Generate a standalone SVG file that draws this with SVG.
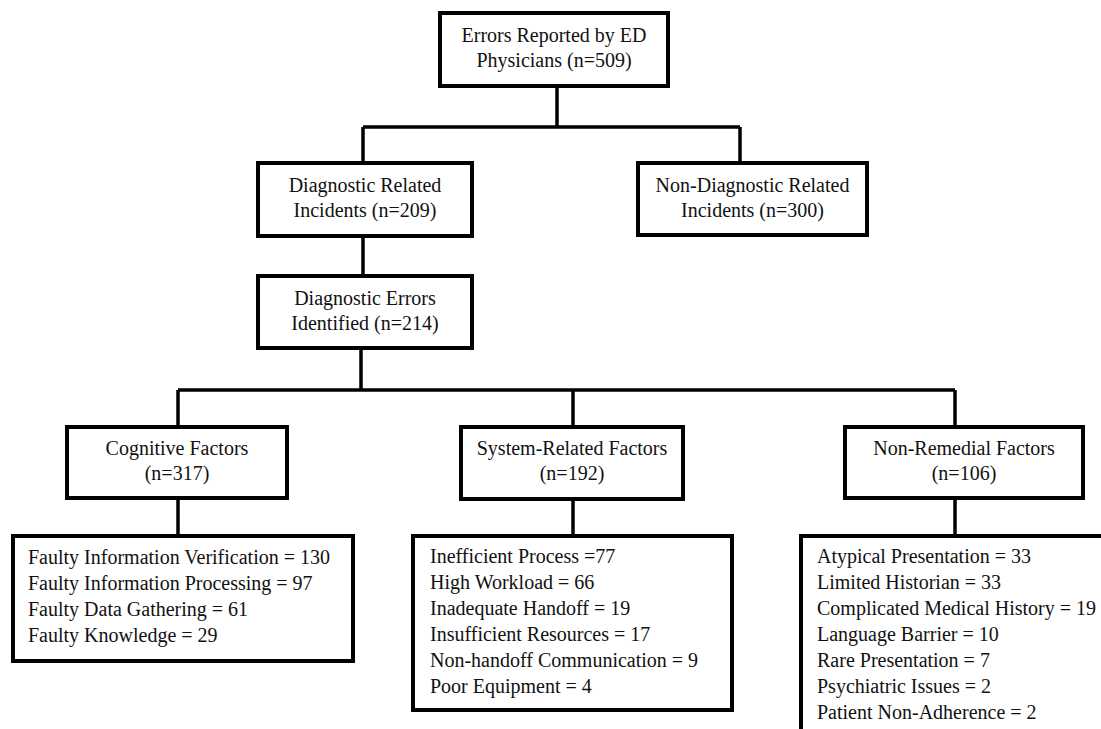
<svg xmlns="http://www.w3.org/2000/svg" width="1101" height="729" viewBox="0 0 1101 729">
<style>
.box{fill:#fff;stroke:#000;stroke-width:4}
.t{font-family:"Liberation Serif","Times New Roman",serif;font-size:20px;fill:#111}
.c{text-anchor:middle}
.ln{fill:none;stroke:#000;stroke-width:3.5}
</style>
<rect width="1101" height="729" fill="#fff"/>
<g id="connectors">
<path class="ln" d="M557 86V127M363 127H740M363 127V163M740 127V163"/>
<path class="ln" d="M363 236V276"/>
<path class="ln" d="M361 348V390M178 390H955M178 390V427M573 390V427M955 390V427"/>
<path class="ln" d="M178 498V536M573 499V536M955 498V536"/>
</g>
<g id="n-root">
<rect class="box" x="440" y="13" width="228" height="73"/>
<text class="t c" x="554" y="42">Errors Reported by ED</text>
<text class="t c" x="554" y="67">Physicians (n=509)</text>
</g>
<g id="n-diag">
<rect class="box" x="258" y="163" width="214" height="73"/>
<text class="t c" x="365" y="192">Diagnostic Related</text>
<text class="t c" x="365" y="217">Incidents (n=209)</text>
</g>
<g id="n-nondiag">
<rect class="box" x="638" y="163" width="229" height="72"/>
<text class="t c" x="752.5" y="192">Non-Diagnostic Related</text>
<text class="t c" x="752.5" y="217">Incidents (n=300)</text>
</g>
<g id="n-errors">
<rect class="box" x="258" y="276" width="214" height="72"/>
<text class="t c" x="365" y="305">Diagnostic Errors</text>
<text class="t c" x="365" y="330">Identified (n=214)</text>
</g>
<g id="n-cog">
<rect class="box" x="67" y="427" width="220" height="71"/>
<text class="t c" x="177" y="455">Cognitive Factors</text>
<text class="t c" x="177" y="480">(n=317)</text>
</g>
<g id="n-sys">
<rect class="box" x="461" y="427" width="222" height="72"/>
<text class="t c" x="572" y="455">System-Related Factors</text>
<text class="t c" x="572" y="480">(n=192)</text>
</g>
<g id="n-nonrem">
<rect class="box" x="845" y="427" width="238" height="71"/>
<text class="t c" x="964" y="455">Non-Remedial Factors</text>
<text class="t c" x="964" y="480">(n=106)</text>
</g>
<g id="n-cog-list">
<rect class="box" x="13" y="536" width="340" height="125"/>
<text class="t" x="28" y="564">Faulty Information Verification = 130</text>
<text class="t" x="28" y="590">Faulty Information Processing = 97</text>
<text class="t" x="28" y="616">Faulty Data Gathering = 61</text>
<text class="t" x="28" y="642">Faulty Knowledge = 29</text>
</g>
<g id="n-sys-list">
<rect class="box" x="413" y="536" width="319" height="174"/>
<text class="t" x="430" y="563">Inefficient Process =77</text>
<text class="t" x="430" y="589">High Workload = 66</text>
<text class="t" x="430" y="615">Inadequate Handoff = 19</text>
<text class="t" x="430" y="641">Insufficient Resources = 17</text>
<text class="t" x="430" y="667">Non-handoff Communication = 9</text>
<text class="t" x="430" y="693">Poor Equipment = 4</text>
</g>
<g id="n-nonrem-list">
<rect class="box" x="801" y="536" width="320" height="220"/>
<text class="t" x="817" y="563">Atypical Presentation = 33</text>
<text class="t" x="817" y="589">Limited Historian = 33</text>
<text class="t" x="817" y="615">Complicated Medical History = 19</text>
<text class="t" x="817" y="641">Language Barrier = 10</text>
<text class="t" x="817" y="667">Rare Presentation = 7</text>
<text class="t" x="817" y="693">Psychiatric Issues = 2</text>
<text class="t" x="817" y="719">Patient Non-Adherence = 2</text>
</g>
</svg>
